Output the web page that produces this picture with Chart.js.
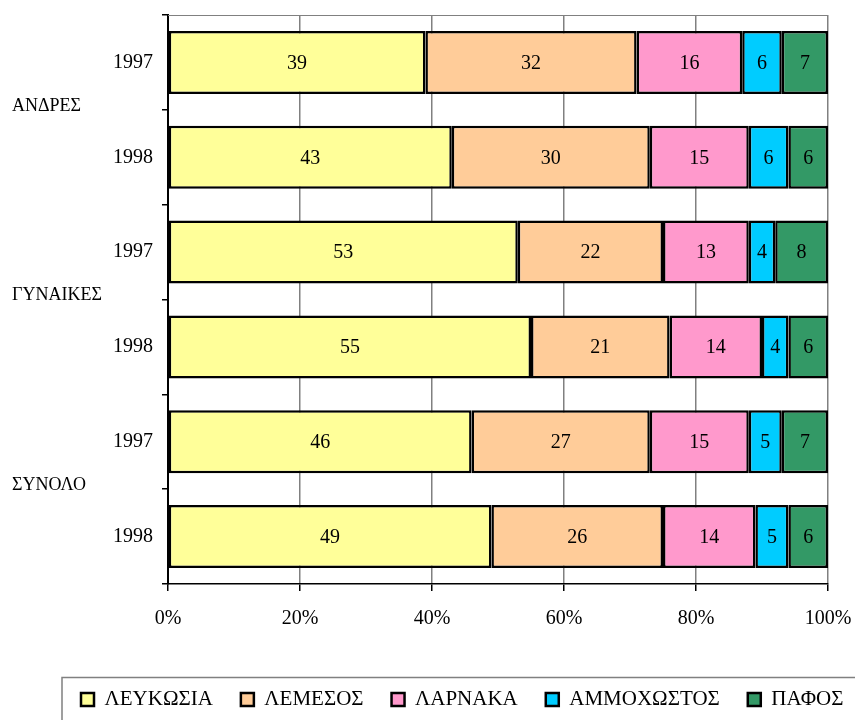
<!DOCTYPE html>
<html lang="en">
<head>
    <meta charset="UTF-8">
    <title>Chart</title>
    <script src="https://cdn.jsdelivr.net/npm/chart.js"></script>
</head>
<style>
    html, body{
        margin: 0;
        padding: 0;
        background: #fff;
        overflow: hidden;
        width: 855px;
        height: 720px;
    }
    .wrap{
        position: relative;
        width: 900px;
        height: 720px;
    }
</style>
<body>
<div class="wrap">
    <canvas id="chart"></canvas>
</div>
<script>
    const years = ['1997', '1998', '1997', '1998', '1997', '1998'];
    const groups = ['ΑΝΔΡΕΣ', 'ΓΥΝΑΙΚΕΣ', 'ΣΥΝΟΛΟ'];
    const cities = ['ΛΕΥΚΩΣΙΑ', 'ΛΕΜΕΣΟΣ', 'ΛΑΡΝΑΚΑ', 'ΑΜΜΟΧΩΣΤΟΣ', 'ΠΑΦΟΣ'];
    const lefkosia = [39, 43, 53, 55, 46, 49];
    const lemesos = [32, 30, 22, 21, 27, 26];
    const larnaka = [16, 15, 13, 14, 15, 14];
    const ammochostos = [6, 6, 4, 4, 5, 5];
    const pafos = [7, 6, 8, 6, 7, 6];
    const xTicks = [0, 20, 40, 60, 80, 100];
    const colors = ['#FFFF99', '#FFCC99', '#FF99CC', '#00CCFF', '#339966'];

    const FONT = "'Liberation Serif', 'Times New Roman', serif";

    const values = [lefkosia, lemesos, larnaka, ammochostos, pafos];

    // numbers inside each bar segment
    const barLabels = {
        id: 'barLabels',
        afterDatasetsDraw(chart) {
            const ctx = chart.ctx;
            ctx.save();
            ctx.font = '20px ' + FONT;
            ctx.fillStyle = '#000';
            ctx.textAlign = 'center';
            ctx.textBaseline = 'middle';
            chart.data.datasets.forEach((ds, d) => {
                chart.getDatasetMeta(d).data.forEach((el, i) => {
                    ctx.fillText(ds.data[i], (el.x + el.base) / 2, el.y + 1);
                });
            });
            ctx.restore();
        }
    };

    // top border of plot area + group names + box round legend
    const extras = {
        id: 'extras',
        beforeDatasetsDraw(chart) {
            const ctx = chart.ctx;
            const a = chart.chartArea;
            ctx.save();
            ctx.strokeStyle = '#808080';
            ctx.lineWidth = 1;
            ctx.beginPath();
            ctx.moveTo(a.left, a.top + 0.5);
            ctx.lineTo(a.right, a.top + 0.5);
            ctx.stroke();
            ctx.restore();
        },
        afterDraw(chart) {
            const ctx = chart.ctx;
            const ys = chart.scales.y;
            ctx.save();
            ctx.font = '18px ' + FONT;
            ctx.fillStyle = '#000';
            ctx.textAlign = 'left';
            ctx.textBaseline = 'middle';
            groups.forEach((g, k) => {
                const y = (ys.getPixelForValue(2 * k) + ys.getPixelForValue(2 * k + 1)) / 2;
                ctx.fillText(g, 12, y - 4);
            });
            const lg = chart.legend;
            if (lg && lg.legendHitBoxes.length) {
                const hb = lg.legendHitBoxes[0];
                const top = hb.top + hb.height / 2 - 22;
                ctx.strokeStyle = '#808080';
                ctx.lineWidth = 1.5;
                ctx.beginPath();
                ctx.moveTo(hb.left - 19, chart.height + 5);
                ctx.lineTo(hb.left - 19, top);
                ctx.lineTo(chart.width + 5, top);
                ctx.stroke();
            }
            ctx.restore();
        }
    };

    const chart = new Chart(document.getElementById('chart'), {
        type: 'bar',
        data: {
            labels: years,
            datasets: cities.map((c, i) => ({
                label: c,
                data: values[i],
                backgroundColor: colors[i],
                borderColor: '#000',
                borderWidth: 2.5,
                borderSkipped: false,
                categoryPercentage: 1,
                barPercentage: 0.665
            }))
        },
        options: {
            indexAxis: 'y',
            responsive: true,
            maintainAspectRatio: false,
            animation: false,
            layout: {
                padding: {top: 15, left: 53, right: 0, bottom: 0}
            },
            plugins: {
                legend: {
                    position: 'bottom',
                    align: 'start',
                    labels: {
                        font: {family: FONT, size: 21},
                        color: '#000',
                        boxWidth: 13,
                        boxHeight: 13,
                        padding: 28
                    }
                },
                tooltip: {enabled: false}
            },
            scales: {
                x: {
                    stacked: true,
                    min: 0,
                    max: 100,
                    afterBuildTicks: (scale) => {
                        scale.ticks = xTicks.map(v => ({value: v}));
                    },
                    afterFit: (scale) => {
                        scale.height = 77;
                        scale.paddingLeft = 0;
                        scale.paddingRight = 0;
                    },
                    ticks: {
                        font: {family: FONT, size: 20},
                        color: '#000',
                        padding: 16,
                        maxRotation: 0,
                        callback: (v) => v + '%'
                    },
                    grid: {
                        color: '#808080',
                        lineWidth: 1.5,
                        tickColor: '#000',
                        tickLength: 7
                    },
                    border: {color: '#000', width: 1.5}
                },
                y: {
                    stacked: true,
                    afterFit: (scale) => {
                        scale.width = 115;
                        scale.paddingTop = 0;
                        scale.paddingBottom = 0;
                    },
                    ticks: {
                        font: {family: FONT, size: 20},
                        color: '#000',
                        padding: 9
                    },
                    grid: {
                        offset: true,
                        drawOnChartArea: false,
                        tickColor: '#000',
                        tickLength: 6,
                        lineWidth: 1.5
                    },
                    border: {color: '#000', width: 2}
                },
                // empty strip on the right so the legend can run past the page edge
                y2: {
                    position: 'right',
                    afterFit: (scale) => {
                        scale.width = 72;
                        scale.paddingTop = 0;
                        scale.paddingBottom = 0;
                    },
                    ticks: {display: false},
                    grid: {display: false},
                    border: {display: false}
                }
            }
        },
        plugins: [barLabels, extras]
    });
</script>
</body>
</html>
